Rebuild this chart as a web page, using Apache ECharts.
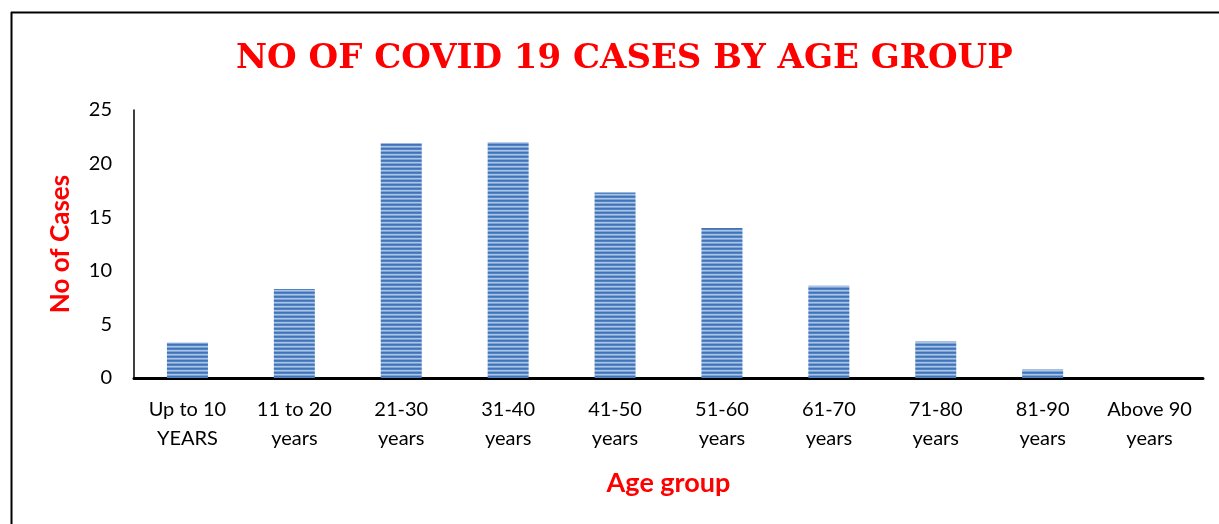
<!DOCTYPE html>
<html>
<head>
<meta charset="utf-8">
<script src="https://cdn.jsdelivr.net/npm/echarts@6/dist/echarts.min.js"></script>
<style>
html,body{margin:0;padding:0;background:#fff;}
#chart{width:1219px;height:524px;}
</style>
</head>
<body>
<div id="chart"></div>
<script>
const categories = ['Up to 10\nYEARS','11 to 20\nyears','21-30\nyears','31-40\nyears','41-50\nyears','51-60\nyears','61-70\nyears','71-80\nyears','81-90\nyears','Above 90\nyears'];
const cases = [3.3, 8.3, 21.9, 22.0, 17.3, 14.0, 8.6, 3.4, 0.8, 0];
const yTicks = [0, 5, 10, 15, 20, 25];

const pc = document.createElement('canvas');
pc.width = 4; pc.height = 4;
const ctx = pc.getContext('2d');
ctx.fillStyle = '#4273b5'; ctx.fillRect(0,0,4,1);
ctx.fillStyle = '#5283c5'; ctx.fillRect(0,1,4,1);
ctx.fillStyle = '#aac4e6'; ctx.fillRect(0,2,4,1);
ctx.fillStyle = '#7ea4d6'; ctx.fillRect(0,3,4,1);

const chart = echarts.init(document.getElementById('chart'), null, {renderer:'canvas'});
chart.setOption({
  backgroundColor: '#fff',
  animation: false,
  title: {
    text: 'NO OF COVID 19 CASES BY AGE GROUP',
    left: 231,
    top: 37,
    textStyle: {color:'#ff0000', fontFamily:'DejaVu Serif', fontWeight:'bold', fontSize:34}
  },
  graphic: [
    {type:'line', shape:{x1:11, y1:12.5, x2:1219, y2:12.5}, style:{stroke:'#000', lineWidth:2}},
    {type:'line', shape:{x1:11.5, y1:12, x2:11.5, y2:524}, style:{stroke:'#000', lineWidth:2}}
  ],
  grid: {left:134, right:16, top:110, bottom:146},
  xAxis: {
    type:'category',
    data: categories,
    axisLine:{lineStyle:{color:'#000', width:3}},
    axisTick:{show:false},
    axisLabel:{interval:0, color:'#000', fontFamily:'Lato', fontSize:20, lineHeight:29, margin:17},
    name:'Age group',
    nameLocation:'middle',
    nameGap:92,
    nameTextStyle:{color:'#ff0000', fontFamily:'Lato', fontWeight:'bold', fontSize:27}
  },
  yAxis: {
    type:'value',
    min: yTicks[0],
    max: yTicks[yTicks.length-1],
    interval: 5,
    axisLine:{show:true, lineStyle:{color:'#000', width:1.5}},
    axisTick:{show:false},
    splitLine:{show:false},
    axisLabel:{color:'#000', fontFamily:'Lato', fontSize:20, margin:22},
    name:'No of Cases',
    nameLocation:'middle',
    nameGap:60,
    nameRotate:90,
    nameTextStyle:{color:'#ff0000', fontFamily:'Lato', fontWeight:'bold', fontSize:26}
  },
  series: [{
    type:'bar',
    data: cases,
    barWidth: 41,
    itemStyle:{color:{image:pc, repeat:'repeat'}}
  }]
});
</script>
</body>
</html>
